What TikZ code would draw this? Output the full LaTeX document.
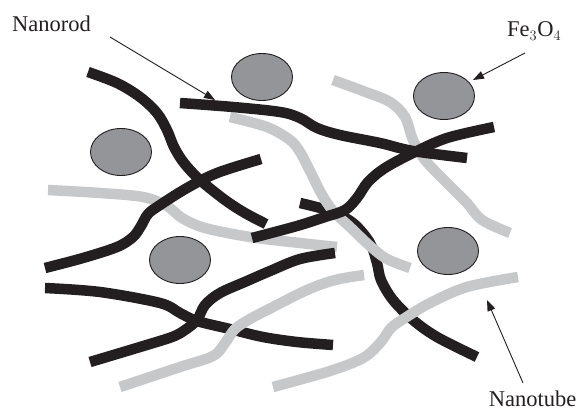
\documentclass[tikz,border=0pt]{standalone}
\usepackage{fontspec}
\setmainfont{Liberation Serif}
\usetikzlibrary{shapes.geometric,arrows.meta}

\definecolor{rodblack}{HTML}{231F20}
\definecolor{tubegray}{HTML}{C7C8CA}
\definecolor{particle}{HTML}{939598}

\tikzset{
  rod/.style={draw=rodblack, line width=10.5pt, line cap=butt, line join=round},
  tube/.style={draw=tubegray, line width=10.5pt, line cap=butt, line join=round},
  fe/.style={ellipse, draw=rodblack, line width=0.9pt, fill=particle,
             minimum width=61pt, minimum height=47pt, inner sep=0pt},
  lbl/.style={inner sep=0pt, font=\fontsize{22.5}{26}\selectfont, text=rodblack},
  pointer/.style={draw=rodblack, line width=0.9pt,
                  -{Triangle[length=11pt,width=8pt]}},
  curve/.style={smooth, tension=0.55}
}

\begin{document}
\begin{tikzpicture}[x=1pt, y=-1pt]
\useasboundingbox (0,0) rectangle (578,412);

% rods lying underneath the tubes
\draw[rod] plot[curve] coordinates {(45,288) (100,292) (160,303) (180,313) (197,321) (230,329) (263,337) (297,342) (333,345)};
\draw[rod] plot[curve] coordinates {(300,203) (330,211) (353,223) (370,243) (377,263) (381,280) (393,300) (413,320) (437,337) (477,357)};

% nanotubes
\draw[tube] plot[curve] coordinates {(230,117) (267,127) (290,140) (300,152) (311,173) (321,193) (333,211) (350,227) (370,246) (387,259) (410,268)};
\draw[tube] plot[curve] coordinates {(333,80) (363,91) (390,102) (405,117) (413,140) (425,160) (447,183) (467,203) (482,220) (510,233)};
\draw[tube] plot[curve] coordinates {(48,190) (100,193) (143,197) (167,206) (182,218) (205,228) (250,237) (300,243) (337,247)};
\draw[tube] plot[curve] coordinates {(120,387) (180,367) (213,356) (225,343) (235,329) (250,319) (273,307) (307,290) (335,280) (364,275)};
\draw[tube] plot[curve] coordinates {(273,387) (330,371) (363,358) (380,343) (391,328) (405,318) (430,303) (467,287) (518,277)};

% rods lying on top
\draw[rod] plot[curve] coordinates {(88,72) (117,83) (140,97) (157,113) (167,130) (174,147) (184,163) (200,180) (225,200) (245,213) (266,224)};
\draw[rod] plot[curve] coordinates {(180,103) (233,107) (280,112) (300,118) (317,128) (340,135) (380,143) (413,151) (467,158)};
\draw[rod] plot[curve] coordinates {(45,268) (83,258) (117,247) (133,237) (141,226) (148,214) (160,205) (187,188) (217,173) (261,159)};
\draw[rod] plot[curve] coordinates {(252,238) (297,226) (325,217) (345,210) (357,198) (368,182) (385,168) (413,153) (447,138) (494,127)};
\draw[rod] plot[curve] coordinates {(90,362) (140,347) (172,337) (185,330) (197,320) (205,305) (220,293) (247,281) (270,271) (300,259) (335,253)};

% Fe3O4 particles
\node[fe] (p1) at (262,77) {};
\node[fe] (p2) at (121,152) {};
\node[fe] (p3) at (444,96) {};
\node[fe] (p4) at (180,260) {};
\node[fe] (p5) at (448,251) {};

% labels
\node[lbl, anchor=base west] (nanorod) at (12,31.5) {Nanorod};
\node[lbl, anchor=base west] (oxide) at (507,37) {Fe$_3$O$_4$};
\node[lbl, anchor=base east] (nanotube) at (576.5,406.5) {Nanotube};

% pointer ends
\coordinate (rodtail) at (110,37);
\coordinate (rodtip) at (215,100);
\coordinate (oxtail) at (525,53);
\coordinate (oxtip) at (473,80);
\coordinate (tubetail) at (523,383);
\coordinate (tubetip) at (487,300);

\draw[pointer] (rodtail) -- (rodtip);
\draw[pointer] (oxtail) -- (oxtip);
\draw[pointer] (tubetail) -- (tubetip);
\end{tikzpicture}
\end{document}
